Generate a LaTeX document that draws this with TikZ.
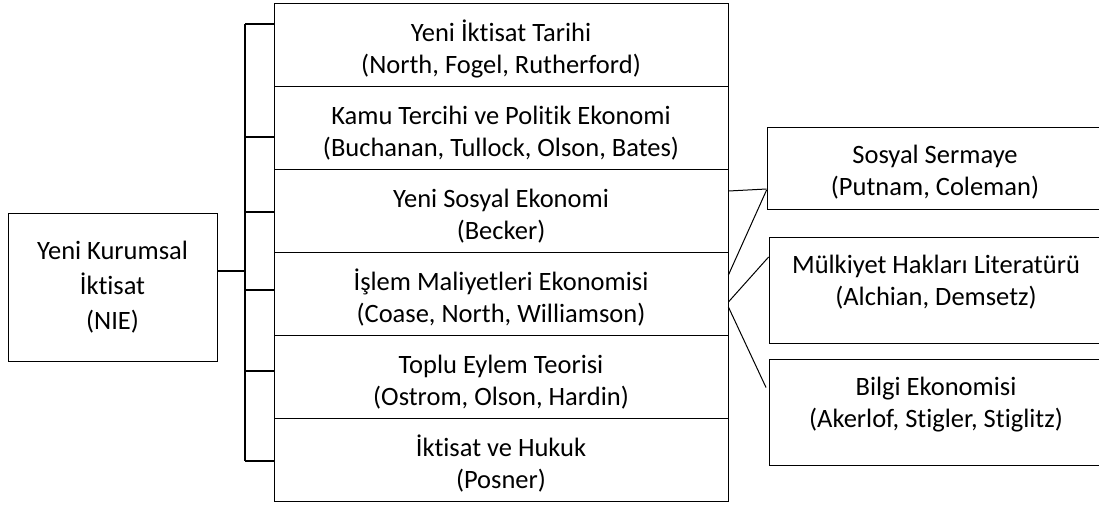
\documentclass[tikz,border=0pt]{standalone}
\usepackage{fontspec}
\setmainfont[Ligatures=NoCommon]{Carlito}
\begin{document}
\begin{tikzpicture}[x=1pt,y=-1pt]
\tikzstyle{mainbox}=[draw, rectangle, line width=0.8pt, minimum width=209pt, minimum height=148pt, inner sep=0pt, align=center, font=\fontsize{26.5}{35}\selectfont]
\tikzstyle{school}=[draw, rectangle, line width=0.8pt, minimum width=454pt, minimum height=83pt, inner sep=0pt, align=center, text height=58pt, text depth=0pt, font=\fontsize{26.5}{32}\selectfont]
\tikzstyle{field}=[draw, rectangle, line width=0.8pt, minimum width=334pt, inner sep=0pt, align=center, font=\fontsize{26.5}{32}\selectfont]
\tikzstyle{bracket}=[draw, line width=1.5pt]
\tikzstyle{link}=[draw, line width=1pt]

\useasboundingbox (0,0) rectangle (1099,504);

% Define boxes
\node[mainbox] (nie) at (112.5,287) {Yeni Kurumsal\\İktisat\\(NIE)};
\node[school] (tarih) at (501,44.5) {Yeni İktisat Tarihi\\(North, Fogel, Rutherford)};
\node[school] (kamu) at (501,127.5) {Kamu Tercihi ve Politik Ekonomi\\(Buchanan, Tullock, Olson, Bates)};
\node[school] (sosyal) at (501,210.5) {Yeni Sosyal Ekonomi\\(Becker)};
\node[school] (islem) at (501,293.5) {İşlem Maliyetleri Ekonomisi\\(Coase, North, Williamson)};
\node[school] (toplu) at (501,376.5) {Toplu Eylem Teorisi\\(Ostrom, Olson, Hardin)};
\node[school] (hukuk) at (501,459.5) {İktisat ve Hukuk\\(Posner)};
\node[field, minimum width=336pt, minimum height=82pt, text height=55pt, text depth=0pt] (sermaye) at (935,168) {Sosyal Sermaye\\(Putnam, Coleman)};
\node[field, minimum height=106pt, text depth=20pt] (mulkiyet) at (936,290) {Mülkiyet Hakları Literatürü\\(Alchian, Demsetz)};
\node[field, minimum height=106pt, text depth=20pt] (bilgi) at (936,412) {Bilgi Ekonomisi\\(Akerlof, Stigler, Stiglitz)};

% Bracket
\coordinate (spine) at (245,0);
\foreach \b/\s in {tarih/20.5, kamu/-9.5, sosyal/-1.5, islem/3.5, toplu/5.5, hukuk/-1.5} {
  \coordinate (\b-tick) at ([yshift=\s pt]\b.west);
  \draw[bracket] (\b-tick) -- (\b-tick -| spine);
}
\draw[bracket] (tarih-tick -| spine) -- (hukuk-tick -| spine);
\coordinate (nie-out) at ([yshift=16pt]nie.east);
\draw[bracket] (nie-out) -- (nie-out -| spine);

% Links to the right
\draw[link] ([yshift=19.5pt]sosyal.east) -- ([yshift=-21pt]sermaye.west);
\draw[link] ([yshift=18.5pt]islem.east) -- ([yshift=-22pt]sermaye.west);
\draw[link] ([yshift=-8.5pt]islem.east) -- ([yshift=33pt]mulkiyet.west);
\draw[link, shorten >=6pt] ([yshift=-13.5pt]islem.east) -- ([yshift=19pt]bilgi.west);
\end{tikzpicture}
\end{document}
